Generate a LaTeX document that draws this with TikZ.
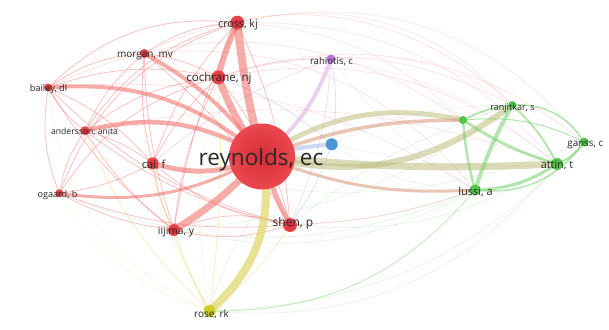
\documentclass[tikz,border=0pt]{standalone}
\usepackage{fontspec}
\setmainfont{Open Sans}
\definecolor{rN}{RGB}{234,72,78}
\definecolor{rNd}{RGB}{215,45,55}
\definecolor{rE}{RGB}{240,105,100}
\definecolor{gN}{RGB}{82,196,72}
\definecolor{gE}{RGB}{120,210,110}
\definecolor{oE}{RGB}{190,190,125}
\definecolor{bE}{RGB}{215,150,120}
\definecolor{yN}{RGB}{205,205,35}
\definecolor{yE}{RGB}{225,215,105}
\definecolor{pN}{RGB}{185,120,215}
\definecolor{pE}{RGB}{220,170,232}
\definecolor{blN}{RGB}{75,150,215}
\definecolor{blE}{RGB}{165,185,230}
\definecolor{txt}{RGB}{40,40,40}
\tikzset{
  ed/.style={line cap=round, draw opacity=0.55},
  thn/.style={line cap=round, draw opacity=0.4, line width=0.8},
  fnt/.style={line cap=round, draw opacity=0.22, line width=0.6},
  nd/.style={circle, inner sep=0pt},
  lab/.style={text=txt, inner sep=0pt},
}
\newcommand{\fs}[1]{\fontsize{#1}{#1}\selectfont}
\begin{document}
\begin{tikzpicture}[x=1pt,y=-1pt]
\fill[white] (0,0) rectangle (609,329);
\useasboundingbox (0,0) rectangle (609,329);
% coordinates
\coordinate (rey) at (262,156.5);
\coordinate (cross) at (237.3,22.7);
\coordinate (coch) at (218.3,77.3);
\coordinate (morg) at (144.3,53.5);
\coordinate (bail) at (48.3,87.5);
\coordinate (ande) at (85,130.7);
\coordinate (cai) at (152.7,163.3);
\coordinate (ogaa) at (59.3,193.3);
\coordinate (iiji) at (174,230);
\coordinate (shen) at (290,225);
\coordinate (rose) at (209.5,311);
\coordinate (rahi) at (331,59);
\coordinate (blue) at (331.7,144.3);
\coordinate (gone) at (463,120);
\coordinate (ranj) at (512.3,105);
\coordinate (gans) at (584.3,142);
\coordinate (atti) at (557,164);
\coordinate (luss) at (475,190);

% faint long arcs
\draw[fnt, bE] (cross) to[bend left=30] (ranj);
\draw[fnt, bE] (cross) to[bend left=32] (gans);
\draw[fnt, bE] (cross) to[bend left=25] (atti);
\draw[fnt, bE] (cross) to[bend left=20] (gone);
\draw[fnt, rE] (coch) to[bend left=25] (atti);
\draw[fnt, rE] (coch) to[bend left=28] (gans);
\draw[fnt, rE] (coch) to[bend left=22] (ranj);
\draw[fnt, rE] (morg) to[bend left=35] (ranj);
\draw[fnt, rE] (morg) to[bend left=28] (luss);
\draw[fnt, rE] (bail) to[bend left=30] (gone);
\draw[fnt, rE] (bail) to[bend left=18] (luss);
\draw[fnt, rE] (ande) to[bend left=15] (atti);
\draw[fnt, pE] (rahi) to[bend left=20] (ranj);
\draw[fnt, pE] (rahi) to[bend left=15] (atti);
\draw[fnt, pE] (rahi) to[bend right=10] (luss);
\draw[fnt, blE] (blue) to[bend left=12] (ranj);
\draw[fnt, blE] (blue) to[bend right=8] (atti);
\draw[fnt, blE] (blue) to[bend right=15] (luss);
\draw[fnt, blE] (blue) to[bend right=20] (rose);
\draw[fnt, yE] (bail) to[bend right=30] (rose);
\draw[fnt, yE] (ogaa) to[bend right=20] (rose);
\draw[fnt, yE] (morg) to[bend right=18] (rose);
\draw[fnt, yE] (cross) to[bend right=15] (rose);
\draw[fnt, gE] (iiji) to[bend right=20] (luss);
\draw[fnt, gE] (shen) to[bend right=18] (atti);
\draw[fnt, gE] (ogaa) to[bend right=22] (luss);
\draw[fnt, gE] (rose) to[bend right=28] (atti);
\draw[fnt, gE] (rose) to[bend right=22] (gans);
\draw[fnt, gE] (cai) to[bend right=18] (gans);
\draw[fnt, gE] (iiji) to[bend right=15] (ranj);
\draw[fnt, gE] (shen) to[bend left=10] (ranj);

% thin red edges
\draw[thn, rE] (cross) to[bend right=25] (bail);
\draw[thn, rE] (cross) to[bend right=15] (morg);
\draw[thn, rE] (cross) to[bend right=20] (ande);
\draw[thn, rE] (cross) to[bend right=12] (cai);
\draw[thn, rE] (cross) to[bend right=8] (iiji);
\draw[thn, rE] (cross) to[bend left=10] (shen);
\draw[thn, rE] (cross) to[bend right=25] (ogaa);
\draw[thn, rE] (coch) to[bend right=15] (bail);
\draw[thn, rE] (coch) to[bend right=10] (morg);
\draw[thn, rE] (coch) to[bend right=15] (ande);
\draw[thn, rE] (coch) to[bend right=10] (cai);
\draw[thn, rE] (coch) to[bend right=10] (iiji);
\draw[thn, rE] (coch) to[bend left=12] (shen);
\draw[thn, rE] (coch) to[bend right=20] (ogaa);
\draw[thn, rE] (morg) to[bend right=15] (bail);
\draw[thn, rE] (morg) to[bend right=12] (ande);
\draw[thn, rE] (morg) to[bend right=10] (cai);
\draw[thn, rE] (morg) to[bend left=10] (shen);
\draw[thn, rE] (morg) to[bend right=8] (iiji);
\draw[thn, rE] (bail) to[bend right=12] (ande);
\draw[thn, rE] (bail) to[bend right=15] (ogaa);
\draw[thn, rE] (bail) to[bend left=12] (cai);
\draw[thn, rE] (bail) to[bend right=10] (iiji);
\draw[thn, rE] (bail) to[bend right=15] (shen);
\draw[thn, rE] (ande) to[bend left=10] (cai);
\draw[thn, rE] (ande) to[bend right=12] (ogaa);
\draw[thn, rE] (ande) to[bend right=10] (iiji);
\draw[thn, rE] (ande) to[bend right=12] (shen);
\draw[thn, rE] (cai) to[bend right=10] (iiji);
\draw[thn, rE] (cai) to[bend right=15] (shen);
\draw[thn, rE] (cai) to[bend left=10] (ogaa);
\draw[thn, rE] (ogaa) to[bend right=10] (iiji);
\draw[thn, rE] (ogaa) to[bend right=12] (shen);
\draw[thn, rE] (iiji) to[bend right=15] (shen);
\draw[thn, rE] (iiji) to[bend left=20] (shen);
\draw[thn, yE] (rose) to[bend left=5] (iiji);
\draw[thn, yE] (rose) to[bend left=8] (cai);
\draw[thn, yE] (rose) to[bend right=10] (shen);
\draw[thn, yE] (rose) to[bend left=12] (ande);
\draw[thn, yE] (rose) to[bend right=5] (coch);
\draw[thn, bE] (shen) to[bend right=8] (luss);
\draw[thn, pE] (rahi) to[bend right=10] (coch);
\draw[thn, pE] (rahi) to[bend left=10] (shen);
\draw[thn, pE] (rahi) to[bend right=10] (cai);
\draw[thn, blE] (blue) to[bend left=8] (shen);
\draw[thn, blE] (blue) to[bend right=10] (rahi);
\draw[thn, blE] (blue) to[bend right=10] (coch);

% thick edges into reynolds
\draw[ed, rE, line width=8] (rey) to[bend left=4] (cross);
\draw[ed, rE, line width=6] (cross) to[bend right=5] (coch);
\draw[ed, rE, line width=7] (coch) to[bend right=8] (rey);
\draw[ed, rE, line width=4] (bail) to[bend left=22] (rey);
\draw[ed, rE, line width=4.5] (ande) to[bend left=22] (rey);
\draw[ed, rE, line width=4] (morg) to[bend left=12] (rey);
\draw[ed, rE, line width=3] (ogaa) to[bend right=18] (rey);
\draw[ed, rE, line width=5] (cai) to[bend right=20] (rey);
\draw[ed, rE, line width=7] (iiji) to[bend right=8] (rey);
\draw[ed, rE, line width=5] (rey) to[bend right=5] (shen);
\draw[ed, yE, line width=8, draw opacity=0.7] (rey) to[bend left=30] (rose);
\draw[ed, pE, line width=4] (rey) to[bend right=15] (rahi);
\draw[ed, blE, line width=4] (rey) to[bend left=5] (blue);
\draw[ed, oE, line width=5] (rey) to[bend left=22] (gone);
\draw[ed, bE, line width=3.5] (rey) to[bend left=10] (gone);
\draw[ed, oE, line width=7] (rey) to[bend right=4] (atti);
\draw[ed, oE, line width=6] (rey) to[bend right=25] (ranj);
\draw[ed, bE, line width=3] (rey) to[bend right=12] (luss);

% green cluster
\draw[ed, gE, line width=4] (ranj) to[bend right=5] (luss);
\draw[ed, gE, line width=3] (luss) to[bend right=15] (atti);
\draw[ed, gE, line width=2] (ranj) to[bend left=10] (atti);
\draw[ed, gE, line width=1.5] (ranj) to[bend left=30] (gans);
\draw[ed, gE, line width=2] (atti) to[bend right=15] (gans);
\draw[ed, gE, line width=2.5] (gone) to[bend right=5] (luss);
\draw[ed, gE, line width=2] (gone) to[bend left=10] (ranj);
\draw[ed, gE, line width=3] (gone) to[bend right=8] (atti);
\draw[ed, gE, line width=1.5] (luss) to[bend right=30] (gans);
\draw[ed, gE, line width=1] (gone) to[bend left=15] (gans);
\draw[thn, gE, line width=1] (rose) to[bend right=25] (luss);

% nodes
\node[nd, inner color=rNd, outer color=rN, minimum size=66] (reyN) at (rey) {};
\node[nd, inner color=rNd, outer color=rN, minimum size=14] (crossN) at (cross) {};
\node[nd, inner color=rNd, outer color=rN, minimum size=14] (cochN) at (coch) {};
\node[nd, inner color=rNd, outer color=rN, minimum size=9] (morgN) at (morg) {};
\node[nd, inner color=rNd, outer color=rN, minimum size=8] (bailN) at (bail) {};
\node[nd, inner color=rNd, outer color=rN, minimum size=9] (andeN) at (ande) {};
\node[nd, inner color=rNd, outer color=rN, minimum size=12] (caiN) at (cai) {};
\node[nd, inner color=rNd, outer color=rN, minimum size=8] (ogaaN) at (ogaa) {};
\node[nd, inner color=rNd, outer color=rN, minimum size=12] (iijiN) at (iiji) {};
\node[nd, inner color=rNd, outer color=rN, minimum size=14] (shenN) at (shen) {};
\node[nd, fill=yN, minimum size=12] (roseN) at (rose) {};
\node[nd, fill=pN, minimum size=9] (rahiN) at (rahi) {};
\node[nd, fill=blN, minimum size=12] (blueN) at (blue) {};
\node[nd, fill=gN, minimum size=8] (goneN) at (gone) {};
\node[nd, fill=gN, minimum size=8] (ranjN) at (ranj) {};
\node[nd, fill=gN, minimum size=9] (gansN) at (gans) {};
\node[nd, fill=gN, minimum size=12] (attiN) at (atti) {};
\node[nd, fill=gN, minimum size=11] (lussN) at (luss) {};

% labels
\node[lab, font=\fs{22.5}] (reyL) at (261,160) {reynolds, ec};
\node[lab, font=\fs{10.7}] (crossL) at (238,24.5) {cross, kj};
\node[lab, font=\fs{11.5}] (cochL) at (219,79) {cochrane, nj};
\node[lab, font=\fs{10}] (morgL) at (145,56) {morgan, mv};
\node[lab, font=\fs{9.2}] (bailL) at (48.5,89) {bailey, dl};
\node[lab, font=\fs{8.6}] (andeL) at (84.5,132) {andersson, anita};
\node[lab, font=\fs{11}] (caiL) at (153.7,165) {cai, f};
\node[lab, font=\fs{9.1}] (ogaaL) at (57.5,195) {ogaard, b};
\node[lab, font=\fs{10.3}] (iijiL) at (176,231.5) {iijima, y};
\node[lab, font=\fs{12}] (shenL) at (293,223.5) {shen, p};
\node[lab, font=\fs{10}] (roseL) at (211.5,314.5) {rose, rk};
\node[lab, font=\fs{9.6}] (rahiL) at (331.5,61.5) {rahiotis, c};
\node[lab, font=\fs{9.1}] (ranjL) at (512.5,108.5) {ranjitkar, s};
\node[lab, font=\fs{9.8}] (gansL) at (585.3,145) {ganss, c};
\node[lab, font=\fs{10.8}] (attiL) at (557,165.5) {attin, t};
\node[lab, font=\fs{11}] (lussL) at (475.5,192) {lussi, a};
\end{tikzpicture}
\end{document}
